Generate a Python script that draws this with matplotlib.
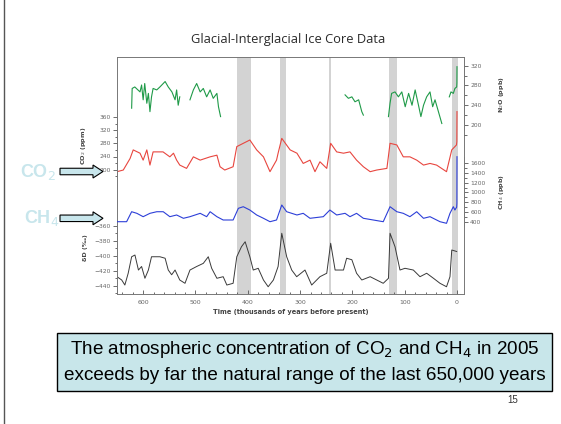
import numpy as np
import matplotlib.pyplot as plt
from matplotlib.patches import FancyArrow, Rectangle
from matplotlib.lines import Line2D

# ---- data (ages in thousands of years before present) ----
co2_age = [650, 638, 625, 619, 606, 600, 593, 587, 581, 562, 549, 542, 536, 530, 517, 504,
           491, 472, 459, 453, 444, 428, 421, 396, 383, 370, 357.5, 345, 342, 335, 319, 306,
           294, 281, 271.5, 262, 249, 241.5, 230, 217, 204.6, 192, 179, 166, 153.5, 134,
           128, 115, 102.7, 90, 77, 64, 51.6, 39, 20, 10, 4, 1, 0.3, 0]
co2_val = [194, 199, 234, 260, 250, 229, 260, 214, 254, 254, 239, 250, 229, 214, 204, 239,
           229, 239, 244, 209, 199, 209, 270, 290, 260, 239, 194, 229, 250, 295, 260, 250,
           219, 229, 194, 224, 204, 280, 254, 250, 254, 229, 209, 194, 199, 204,
           280, 275, 239, 239, 229, 214, 219, 214, 194, 260, 270, 275, 285, 376]

ch4_age = [650, 631.6, 622, 612, 600, 587, 574, 561.6, 549, 536, 523, 510.5, 491, 478.6,
           472, 459, 447, 428, 418, 408.6, 396, 383, 370, 357.5, 345, 335, 325.6, 306, 294,
           281, 255.6, 243, 230, 214, 204.6, 192, 179, 160, 141, 128, 115, 102.7, 90, 77,
           64, 51.6, 32.5, 20, 13.4, 7, 4, 0.6, 0.2, 0]
ch4_val = [400, 400, 605, 572, 503, 572, 605, 605, 503, 538, 470, 503, 572, 503,
           605, 503, 435, 435, 675, 708, 640, 538, 470, 400, 435, 743, 605, 538, 572,
           470, 503, 640, 538, 572, 503, 572, 470, 435, 400, 708, 605, 572, 503, 605,
           470, 503, 400, 367, 572, 708, 640, 700, 780, 1735]

n2o_age = [622, 621, 616, 606, 603, 600, 597, 593, 590, 587, 584, 581, 574, 568, 561.6, 558,
           552, 545, 539, 536, 533, 530, np.nan,
           510.5, 504, 497.7, 491, 485, 478.6, 472, 466, 459, 456, 452, np.nan,
           214, 207.6, 201, 195, 188, 182, 179, np.nan,
           131, 128, 125, 118.5, 112, 105.5, 99, 92.5, 86, 80, 73, 69, 64, 58, 51.6,
           46.5, 42, 35.5, 29, np.nan,
           14.7, 11.5, 7, 4, 0.6, 0.2, 0]
n2o_val = [234, 274, 277, 267, 281, 251, 284, 244, 264, 227, 257, 274, 271, 277, 284, 288,
           277, 267, 251, 271, 240, 257, np.nan,
           251, 271, 284, 267, 274, 257, 271, 254, 264, 237, 217, np.nan,
           261, 254, 257, 247, 251, 227, 220, np.nan,
           217, 244, 264, 267, 257, 267, 237, 264, 240, 271, 237, 217, 240, 257, 267,
           237, 251, 227, 203, np.nan,
           257, 267, 264, 274, 277, 285, 318]

dd_age = [650, 641, 635, 628.6, 622, 615.7, 609, 603, 596.6, 590, 584, 568, 558, 552, 545.5,
          539, 530, 520, 510.5, 497.7, 485, 475.5, 469, 459, 447, 440, 428, 421, 412, 405,
          396, 389.5, 380, 370, 361, 351, 342, 335, 325.6, 316, 306.5, 290.6, 277.8, 262,
          249, 241.5, 233, 217, 211, 201, 192, 182, 166, 153.5, 141, 131, 128, 118.5, 109,
          99.4, 83.5, 70.7, 58, 45, 32.5, 20, 13.4, 10, 0.6]
dd_val = [-427.6, -432, -438.7, -423, -401, -398.7, -418.7, -414, -429.7, -418.7, -401, -401,
          -403, -418.7, -425, -418.7, -432, -436.4, -418.7, -414, -409.8, -401, -416.4, -429.7,
          -427.6, -438.7, -436.4, -401, -387.6, -381, -401, -418.7, -416.4, -432, -441, -432,
          -414, -369.7, -401, -418.7, -427.6, -418.7, -438.7, -427.6, -423, -383, -418.7,
          -418.7, -403, -405, -423, -432, -427.6, -432, -436.4, -429.7, -369.7, -387.6,
          -418.7, -416.4, -418.7, -427.6, -423, -429.7, -436.4, -441, -427.6, -392, -394]

interglacials = [(421, 394), (338, 326), (245, 241), (130, 115), (10, -1.3)]
x_ticks = [600, 500, 400, 300, 200, 100, 0]

# ---- figure ----
W, H = 561, 424
fig = plt.figure(figsize=(W / 100, H / 100), dpi=100)
fig.patch.set_facecolor('white')


def fx(px):
    return px / W


def fy(py):
    return 1 - py / H


left, right, top, bottom = 117, 464, 57, 294
ax = fig.add_axes([fx(left), fy(bottom), fx(right - left), (bottom - top) / H])
ax.set_xlim(650, -13.4)
ax.set_ylim(0, 1)
ax.set_yticks([])
ax.set_xticks(x_ticks)
ax.set_xticks(np.arange(0, 660, 20), minor=True)
ax.tick_params(axis='x', which='both', direction='in', labelsize=4.5, labelcolor='#666666',
               color='#555555', width=0.6, pad=4)
ax.tick_params(axis='x', which='major', length=3)
ax.tick_params(axis='x', which='minor', length=1.8)
for s in ax.spines.values():
    s.set_linewidth(0.7)
    s.set_color('#777777')
ax.set_xlabel('Time (thousands of years before present)', fontsize=4.8, fontweight='bold',
              color='#444444', labelpad=3)
for a0, a1 in interglacials:
    ax.axvspan(a0, a1, color='#d3d3d3', lw=0, zorder=0)


def add_scale(ylim, bounds, ticks, minor, label, side, label_xy):
    t = ax.twinx()
    t.set_ylim(*ylim)
    t.set_xlim(ax.get_xlim())
    for s in t.spines.values():
        s.set_visible(False)
    sp = t.spines[side]
    sp.set_visible(True)
    sp.set_bounds(*bounds)
    sp.set_linewidth(0.7)
    sp.set_color('#777777')
    t.yaxis.set_ticks_position(side)
    t.yaxis.set_label_position(side)
    t.set_yticks(ticks)
    t.set_yticks(minor, minor=True)
    t.tick_params(axis='y', which='both', direction='out', labelsize=4.3,
                  labelcolor='#666666', color='#555555', width=0.6, pad=1.5)
    t.tick_params(axis='y', which='major', length=3)
    t.tick_params(axis='y', which='minor', length=1.8)
    t.set_ylabel(label, fontsize=4.6, fontweight='bold', color='#444444')
    t.yaxis.set_label_coords(*label_xy)
    return t


def lim(v_ref, y_ref, px_per_unit):
    # value range that puts v_ref at pixel row y_ref
    lo = v_ref - (bottom - y_ref) / px_per_unit
    hi = v_ref + (y_ref - top) / px_per_unit
    return lo, hi


ax_co2 = add_scale(lim(200, 169.7, 0.33), (180, 372), [200, 240, 280, 320, 360],
                   np.arange(180, 380, 20), 'CO$_2$ (ppm)', 'left', (-0.085, 0.624))
ax_dd = add_scale(lim(-440, 286, 0.75), (-450, -352), [-440, -420, -400, -380, -360],
                  np.arange(-450, -350, 10), 'δD (‰)', 'left', (-0.085, 0.194))
ax_n2o = add_scale(lim(200, 125, 0.494), (190, 332), [200, 240, 280, 320],
                   np.arange(180, 340, 20), 'N$_2$O (ppb)', 'right', (1.095, 0.84))
ax_ch4 = add_scale(lim(400, 221.7, 0.04867), (320, 1720), [400, 600, 800, 1000, 1200, 1400, 1600],
                   np.arange(400, 1700, 100), 'CH$_4$ (ppb)', 'right', (1.095, 0.432))

ax_co2.plot(co2_age, co2_val, color='#e8463f', lw=0.8)
ax_ch4.plot(ch4_age, ch4_val, color='#2d3fd8', lw=0.8)
ax_n2o.plot(n2o_age, n2o_val, color='#1f9a48', lw=0.8)
ax_dd.plot(dd_age, dd_val, color='#3a3a3a', lw=0.7)

fig.text(fx(288), fy(40), 'Glacial-Interglacial Ice Core Data', ha='center', va='center',
         fontsize=9.3, color='#2a2a2a', family='Open Sans')

# ---- slide annotations ----
pale = '#c8e6ec'
for label, py, px in [('CO$_2$', 171.5, 38), ('CH$_4$', 218.3, 42)]:
    fig.text(fx(px), fy(py), label, ha='center', va='center', fontsize=13,
             color=pale, family='Liberation Sans', fontweight='bold')
    fig.add_artist(FancyArrow(fx(60), fy(py), fx(43), 0, width=6.5 / H, head_width=13 / H,
                              head_length=fx(10), length_includes_head=True,
                              transform=fig.transFigure, facecolor=pale,
                              edgecolor='black', lw=0.8))

fig.add_artist(Rectangle((fx(57), fy(391)), fx(552 - 57), (391 - 333) / H,
                         transform=fig.transFigure, facecolor='#c8e6ea',
                         edgecolor='black', lw=1))
fig.text(fx(305), fy(350), 'The atmospheric concentration of CO$_2$ and CH$_4$ in 2005',
         ha='center', va='center', fontsize=13.6, family='Liberation Sans')
fig.text(fx(305), fy(375), 'exceeds by far the natural range of the last 650,000 years',
         ha='center', va='center', fontsize=13.6, family='Liberation Sans')
fig.text(fx(513), fy(400), '15', ha='center', va='center', fontsize=7,
         family='Liberation Sans', color='#333333')
fig.add_artist(Line2D([fx(4), fx(4)], [0, 1], transform=fig.transFigure,
                      color='#555555', lw=1))

fig.savefig('out.png', dpi=100)
